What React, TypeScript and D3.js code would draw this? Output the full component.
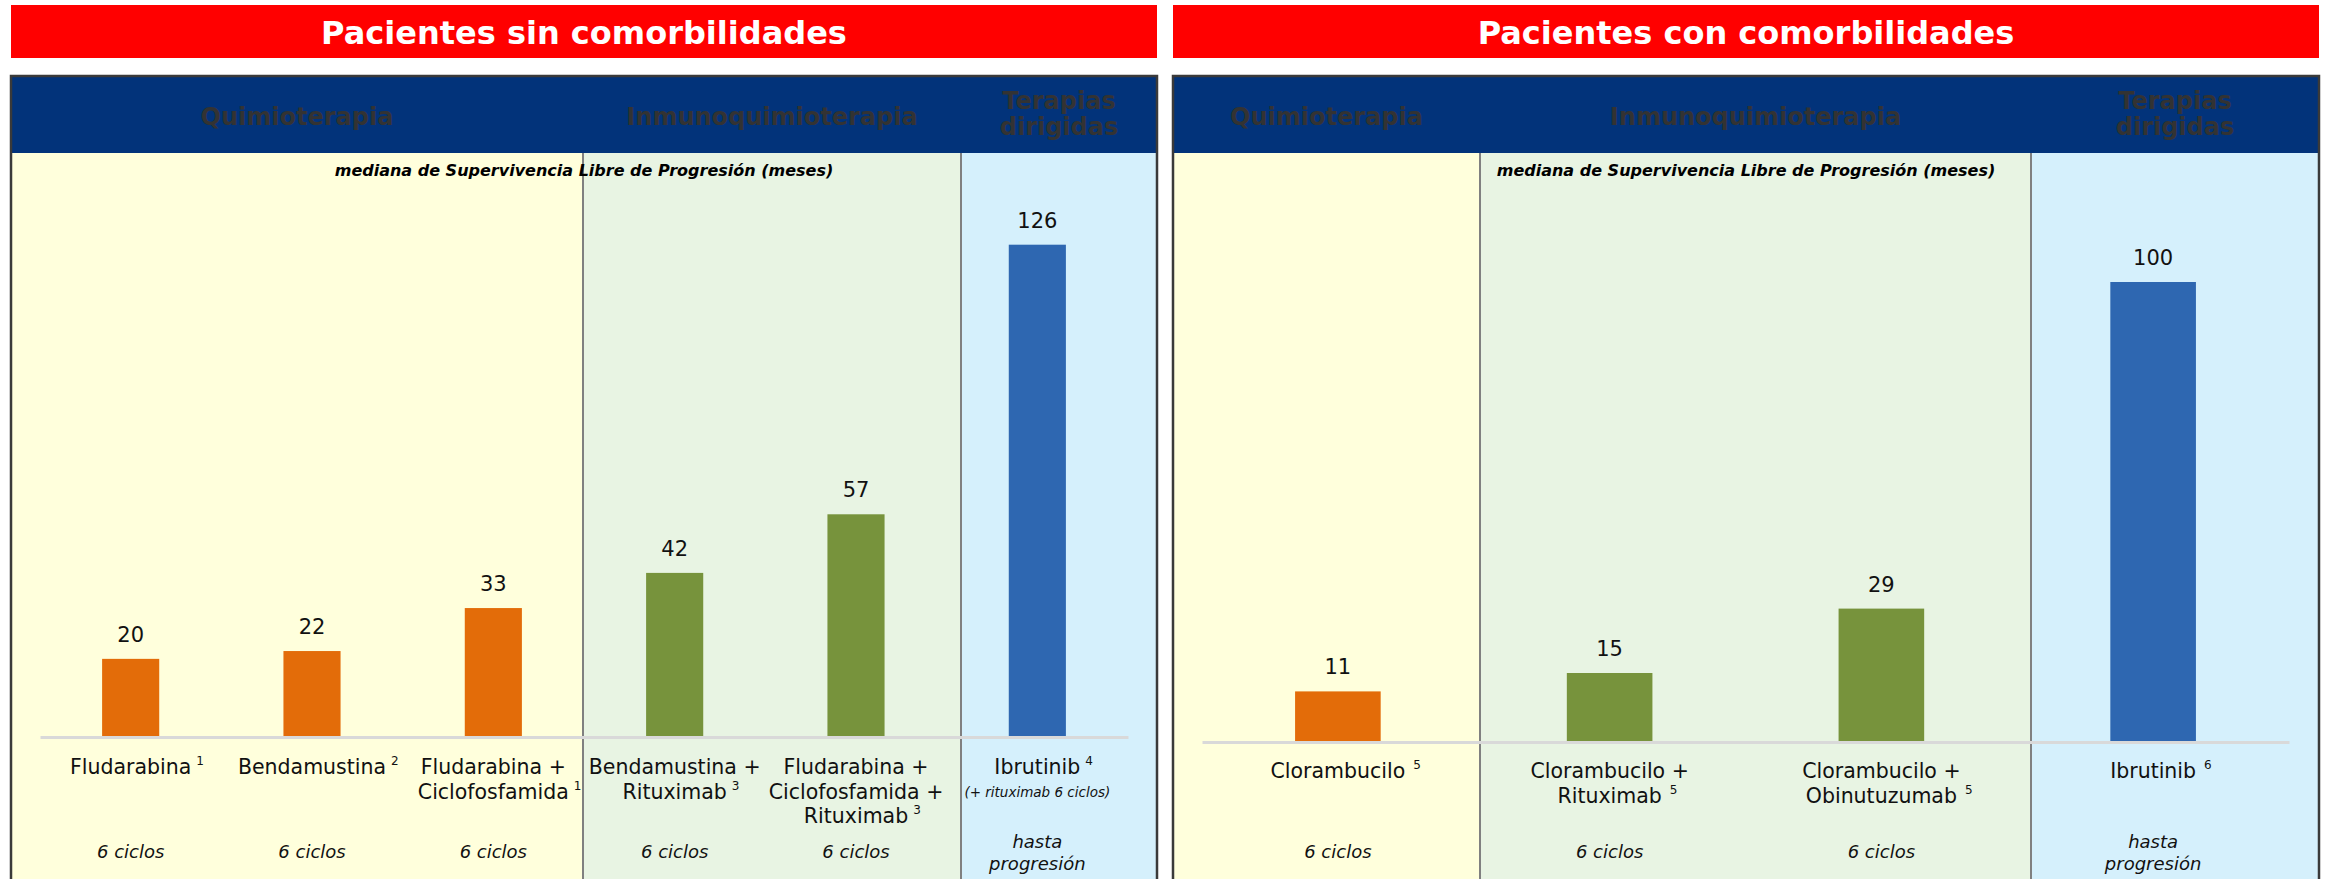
import React, { useEffect, useRef } from "react";
import * as d3 from "d3";

const WIDTH = 2328;
const HEIGHT = 879;
const FONT = "'DejaVu Sans', Verdana, sans-serif";

// Pacientes sin comorbilidades
const sinLabels = [
  ["Fludarabina"],
  ["Bendamustina"],
  ["Fludarabina +", "Ciclofosfamida"],
  ["Bendamustina +", "Rituximab"],
  ["Fludarabina +", "Ciclofosfamida +", "Rituximab"],
  ["Ibrutinib"],
];
const sinValues = [20, 22, 33, 42, 57, 126];
const sinRefs = ["1", "2", "1", "3", "3", "4"];
const sinGroups = ["quimio", "quimio", "quimio", "inmuno", "inmuno", "dirigida"];
const sinDuration = [["6 ciclos"], ["6 ciclos"], ["6 ciclos"], ["6 ciclos"], ["6 ciclos"], ["hasta", "progresión"]];
const sinNotes = ["", "", "", "", "", "(+ rituximab 6 ciclos)"];

// Pacientes con comorbilidades
const conLabels = [
  ["Clorambucilo"],
  ["Clorambucilo +", "Rituximab"],
  ["Clorambucilo +", "Obinutuzumab"],
  ["Ibrutinib"],
];
const conValues = [11, 15, 29, 100];
const conRefs = ["5", "5", "5", "6"];
const conGroups = ["quimio", "inmuno", "inmuno", "dirigida"];
const conDuration = [["6 ciclos"], ["6 ciclos"], ["6 ciclos"], ["hasta", "progresión"]];
const conNotes = ["", "", "", ""];

// Therapy groups
const groupKeys = ["quimio", "inmuno", "dirigida"];
const groupTitles = [["Quimioterapia"], ["Inmunoquimioterapia"], ["Terapias", "dirigidas"]];
const groupBarColors = ["#E36C09", "#77933C", "#2E67B1"];
const groupBgColors = ["#FFFFDC", "#E8F4E3", "#D5F0FC"];

const panelTitles = ["Pacientes sin comorbilidades", "Pacientes con comorbilidades"];
const subtitle = "mediana de Supervivencia Libre de Progresión (meses)";
const sinMax = 140;
const conMax = 120;

interface PanelData {
  title: string;
  labels: string[][];
  values: number[];
  refs: string[];
  groups: string[];
  duration: string[][];
  notes: string[];
  max: number;
}

interface PanelLayout {
  x0: number;
  x1: number;
  bounds: number[];
  axis: [number, number];
  base: number;
  top: number;
  labelY: number;
  supGap: number;
}

const panels: [PanelData, PanelLayout][] = [
  [
    { title: panelTitles[0], labels: sinLabels, values: sinValues, refs: sinRefs, groups: sinGroups, duration: sinDuration, notes: sinNotes, max: sinMax },
    { x0: 11, x1: 1157, bounds: [11, 583, 961, 1157], axis: [40, 1128], base: 737, top: 190, labelY: 774, supGap: 5 },
  ],
  [
    { title: panelTitles[1], labels: conLabels, values: conValues, refs: conRefs, groups: conGroups, duration: conDuration, notes: conNotes, max: conMax },
    { x0: 1173, x1: 2319, bounds: [1173, 1480, 2031, 2319], axis: [1202, 2289], base: 742, top: 190, labelY: 778, supGap: 8 },
  ],
];

function drawPanel(svg: d3.Selection<SVGSVGElement, unknown, null, undefined>, data: PanelData, lay: PanelLayout) {
  const g = svg.append("g");
  const cx = (lay.x0 + lay.x1) / 2;
  const bottom = HEIGHT + 20;

  // Red title banner
  g.append("rect").attr("x", lay.x0).attr("y", 5).attr("width", lay.x1 - lay.x0).attr("height", 53).attr("fill", "#FF0000");
  g.append("text")
    .attr("x", cx).attr("y", 44)
    .attr("text-anchor", "middle")
    .attr("font-family", FONT).attr("font-weight", "bold").attr("font-size", 32)
    .attr("fill", "#FFFFFF")
    .text(data.title);

  // Section backgrounds
  groupKeys.forEach((k, i) => {
    g.append("rect")
      .attr("x", lay.bounds[i]).attr("y", 153)
      .attr("width", lay.bounds[i + 1] - lay.bounds[i]).attr("height", bottom - 153)
      .attr("fill", groupBgColors[i]);
  });

  // Navy header band
  g.append("rect").attr("x", lay.x0).attr("y", 76).attr("width", lay.x1 - lay.x0).attr("height", 77).attr("fill", "#02337A");
  groupKeys.forEach((k, i) => {
    const mid = (lay.bounds[i] + lay.bounds[i + 1]) / 2;
    const lines = groupTitles[i];
    const t = g.append("text")
      .attr("text-anchor", "middle")
      .attr("font-family", FONT).attr("font-weight", "bold").attr("font-size", 24)
      .attr("fill", "#333333");
    const startY = lines.length === 1 ? 125 : 109;
    lines.forEach((ln, j) => {
      t.append("tspan").attr("x", mid).attr("y", startY + j * 26).text(ln);
    });
  });

  // Section dividers
  [lay.bounds[1], lay.bounds[2]].forEach((bx) => {
    g.append("line")
      .attr("x1", bx).attr("x2", bx).attr("y1", 153).attr("y2", bottom)
      .attr("stroke", "#808080").attr("stroke-width", 2);
  });

  // Subtitle
  g.append("text")
    .attr("x", cx).attr("y", 176)
    .attr("text-anchor", "middle")
    .attr("font-family", FONT).attr("font-weight", "bold").attr("font-style", "italic").attr("font-size", 16)
    .attr("fill", "#000000")
    .text(subtitle);

  // Scales
  const idx = data.values.map((_, i) => String(i));
  const x = d3.scaleBand<string>().domain(idx).range(lay.axis).paddingInner(0.685).paddingOuter(0.3425);
  const y = d3.scaleLinear().domain([0, data.max]).range([lay.base, lay.top]);

  // Bars
  g.append("g").selectAll("rect")
    .data(data.values)
    .join("rect")
    .attr("x", (_, i) => x(String(i)) as number)
    .attr("y", (d) => y(d))
    .attr("width", x.bandwidth())
    .attr("height", (d) => y(0) - y(d))
    .attr("fill", (_, i) => groupBarColors[groupKeys.indexOf(data.groups[i])]);

  // Baseline axis
  const axisG = g.append("g").attr("transform", `translate(0,${lay.base})`)
    .call(d3.axisBottom(x).tickSize(0).tickSizeOuter(0).tickFormat(() => ""));
  axisG.select(".domain").attr("stroke", "#D9D9D9").attr("stroke-width", 3);

  // Value labels
  g.append("g").selectAll("text")
    .data(data.values)
    .join("text")
    .attr("x", (_, i) => (x(String(i)) as number) + x.bandwidth() / 2)
    .attr("y", (d) => y(d) - 17)
    .attr("text-anchor", "middle")
    .attr("font-family", FONT).attr("font-size", 21)
    .attr("fill", "#111111")
    .text((d) => String(d));

  // Category labels with reference superscripts
  data.labels.forEach((lines, i) => {
    const bx = (x(String(i)) as number) + x.bandwidth() / 2;
    lines.forEach((ln, j) => {
      const ly = lay.labelY + j * 24.5;
      const t = g.append("text")
        .attr("x", bx).attr("y", ly)
        .attr("text-anchor", "middle")
        .attr("font-family", FONT).attr("font-size", 20.5)
        .attr("fill", "#111111")
        .text(ln);
      if (j === lines.length - 1) {
        const len = (t.node() as SVGTextElement).getComputedTextLength();
        g.append("text")
          .attr("x", bx + len / 2 + lay.supGap).attr("y", ly - 9)
          .attr("font-family", FONT).attr("font-size", 12)
          .attr("fill", "#111111")
          .text(data.refs[i]);
      }
    });
    if (data.notes[i]) {
      g.append("text")
        .attr("x", bx).attr("y", lay.labelY + 23)
        .attr("text-anchor", "middle")
        .attr("font-family", FONT).attr("font-style", "italic").attr("font-size", 13.5)
        .attr("fill", "#111111")
        .text(data.notes[i]);
    }
    const dur = data.duration[i];
    const dy0 = dur.length === 1 ? 858 : 847.5;
    dur.forEach((ln, j) => {
      g.append("text")
        .attr("x", bx).attr("y", dy0 + j * 22)
        .attr("text-anchor", "middle")
        .attr("font-family", FONT).attr("font-style", "italic").attr("font-size", 18)
        .attr("fill", "#111111")
        .text(ln);
    });
  });

  // Panel frame
  g.append("rect")
    .attr("x", lay.x0).attr("y", 76)
    .attr("width", lay.x1 - lay.x0).attr("height", bottom - 76)
    .attr("fill", "none").attr("stroke", "#3A3A3A").attr("stroke-width", 2.5);
}

export default function App() {
  const ref = useRef<SVGSVGElement>(null);

  useEffect(() => {
    if (!ref.current) return;
    const svg = d3.select(ref.current);
    svg.selectAll("*").remove();
    svg.append("rect").attr("width", WIDTH).attr("height", HEIGHT).attr("fill", "#FFFFFF");
    panels.forEach(([data, lay]) => drawPanel(svg, data, lay));
  }, []);

  return (
    <svg
      ref={ref}
      width={WIDTH}
      height={HEIGHT}
      style={{ position: "absolute", left: 0, top: 0, display: "block" }}
    />
  );
}
